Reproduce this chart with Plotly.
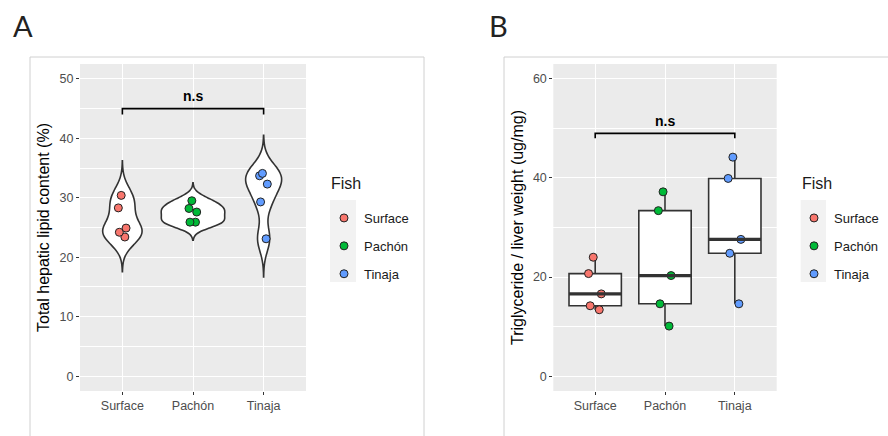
import numpy as np
import plotly.graph_objects as go

# ---------------- data ----------------
categories = ["Surface", "Pachón", "Tinaja"]
colors = ["#F8766D", "#00BA38", "#619CFF"]

lipid_surface = [30.4, 28.3, 24.9, 24.2, 23.4]
lipid_pachon = [29.5, 28.2, 27.6, 25.9, 25.9]
lipid_tinaja = [34.1, 33.7, 32.3, 29.3, 23.1]

tg_surface = [24.0, 20.7, 16.6, 14.2, 13.4]
tg_pachon = [37.2, 33.4, 20.3, 14.6, 10.1]
tg_tinaja = [44.2, 39.9, 27.6, 24.8, 14.6]

lipid_ticks = [0, 10, 20, 30, 40, 50]
tg_ticks = [0, 20, 40, 60]

lipid_sets = [lipid_surface, lipid_pachon, lipid_tinaja]
tg_sets = [tg_surface, tg_pachon, tg_tinaja]

W, H = 888, 436
FONT = "Liberation Sans, Arial, sans-serif"
TICKC = "#4D4D4D"
LINEC = "#333333"


def bw_nrd0(v):
    v = np.asarray(v, float)
    sd = v.std(ddof=1)
    q1, q3 = np.percentile(v, [25, 75])
    lo = min(sd, (q3 - q1) / 1.34)
    return 0.9 * lo * len(v) ** -0.2


fig = go.Figure()

# ---------------- panel A: violins ----------------
for i, (cat, vals, col) in enumerate(zip(categories, lipid_sets, colors)):
    bw = bw_nrd0(vals)
    fig.add_trace(go.Violin(
        x=[i] * len(vals), y=vals, name=cat,
        xaxis="x", yaxis="y",
        scalegroup="lipid", scalemode="width",
        bandwidth=bw, spanmode="manual",
        span=[min(vals) - 3 * bw, max(vals) + 3 * bw],
        fillcolor="white", line=dict(color=LINEC, width=1.6),
        points="all", pointpos=0, jitter=0.15,
        marker=dict(color=col, size=8, line=dict(color="#222222", width=1)),
        showlegend=False, hoverinfo="y",
    ))

# ---------------- panel B: boxes ----------------
for i, (cat, vals, col) in enumerate(zip(categories, tg_sets, colors)):
    fig.add_trace(go.Box(
        x=[i] * len(vals), y=vals, name=cat,
        xaxis="x2", yaxis="y2", width=0.75, whiskerwidth=0,
        quartilemethod="inclusive",
        fillcolor="white", line=dict(color=LINEC, width=1.6),
        boxpoints=False, showlegend=False, hoverinfo="y",
    ))
    med = float(np.median(vals))
    fig.add_trace(go.Scatter(
        x=[i - 0.375, i + 0.375], y=[med, med], mode="lines",
        xaxis="x2", yaxis="y2",
        line=dict(color=LINEC, width=3.2), showlegend=False, hoverinfo="skip",
    ))
    fig.add_trace(go.Box(
        x=[i] * len(vals), y=vals, name=cat,
        xaxis="x2", yaxis="y2", width=0.75, whiskerwidth=0,
        fillcolor="rgba(0,0,0,0)", line=dict(color="rgba(0,0,0,0)", width=0),
        boxpoints="all", pointpos=0, jitter=0.3,
        marker=dict(color=col, size=8, line=dict(color="#222222", width=1)),
        showlegend=False, hoverinfo="y",
    ))

# ---------------- legends ----------------
for lg in ["legend", "legend2"]:
    for cat, col in zip(categories, colors):
        fig.add_trace(go.Scatter(
            x=[None], y=[None], mode="markers", name=cat,
            marker=dict(color=col, size=8, line=dict(color="#222222", width=1)),
            legend=lg, legendgroup=lg + cat, showlegend=True,
            xaxis="x" if lg == "legend" else "x2",
            yaxis="y" if lg == "legend" else "y2",
        ))

xdomA = [80 / W, 306 / W]
xdomB = [553.3 / W, 776.7 / W]
ydom = [(H - 391) / H, (H - 64) / H]

axis_common = dict(
    showline=False, zeroline=False, ticks="outside", ticklen=3,
    tickcolor=LINEC, tickwidth=1.1,
    tickfont=dict(family=FONT, size=12.5, color=TICKC),
    showgrid=True, gridcolor="white", gridwidth=1.2,
)

legend_common = dict(
    bgcolor="rgba(0,0,0,0)", font=dict(family=FONT, size=13, color="#1a1a1a"),
    tracegroupgap=8, itemwidth=30, yanchor="top", xanchor="left",
)


def px_x(p):
    return p / W


def px_y(p):
    return (H - p) / H


shapes = [
    # panel borders
    dict(type="rect", xref="paper", yref="paper", x0=px_x(30), x1=px_x(424),
         y0=-0.05, y1=px_y(57), line=dict(color="#D0D0D0", width=1), layer="below"),
    dict(type="rect", xref="paper", yref="paper", x0=px_x(504), x1=1.05,
         y0=-0.05, y1=px_y(57), line=dict(color="#D0D0D0", width=1), layer="below"),
    # legend key backgrounds
    dict(type="rect", xref="paper", yref="paper", x0=px_x(330), x1=px_x(356),
         y0=px_y(282), y1=px_y(200), fillcolor="#F2F2F2", line=dict(width=0), layer="below"),
    dict(type="rect", xref="paper", yref="paper", x0=px_x(800.7), x1=px_x(826),
         y0=px_y(282), y1=px_y(200), fillcolor="#F2F2F2", line=dict(width=0), layer="below"),
    # significance brackets
    dict(type="path", xref="x", yref="y", path="M 0,44 L 0,45 L 2,45 L 2,44",
         line=dict(color="black", width=1.6)),
    dict(type="path", xref="x2", yref="y2", path="M 0,48 L 0,49 L 2,49 L 2,48",
         line=dict(color="black", width=1.6)),
]

annotations = [
    dict(text="A", xref="paper", yref="paper", x=px_x(11), y=px_y(26),
         xanchor="left", yanchor="middle", showarrow=False,
         font=dict(family="Lato, Open Sans, sans-serif", size=29, color="#222222")),
    dict(text="B", xref="paper", yref="paper", x=px_x(487), y=px_y(26),
         xanchor="left", yanchor="middle", showarrow=False,
         font=dict(family="Lato, Open Sans, sans-serif", size=29, color="#222222")),
    dict(text="<b>n.s</b>", xref="x", yref="y", x=1, y=45.4, yanchor="bottom",
         showarrow=False, font=dict(family=FONT, size=14, color="black")),
    dict(text="<b>n.s</b>", xref="x2", yref="y2", x=1, y=49.5, yanchor="bottom",
         showarrow=False, font=dict(family=FONT, size=14, color="black")),
    dict(text="Fish", xref="paper", yref="paper", x=px_x(329), y=px_y(183),
         xanchor="left", yanchor="middle", showarrow=False,
         font=dict(family=FONT, size=16, color="#1a1a1a")),
    dict(text="Fish", xref="paper", yref="paper", x=px_x(800), y=px_y(183),
         xanchor="left", yanchor="middle", showarrow=False,
         font=dict(family=FONT, size=16, color="#1a1a1a")),
]

fig.update_layout(
    width=W, height=H, margin=dict(l=0, r=0, t=0, b=0),
    paper_bgcolor="white", plot_bgcolor="#EBEBEB",
    showlegend=True, violinmode="overlay", boxmode="overlay",
    violingap=0.1, violingroupgap=0,
    xaxis=dict(domain=xdomA, range=[-0.6, 2.6], tickvals=[0, 1, 2],
               ticktext=categories, anchor="y", **axis_common),
    yaxis=dict(domain=ydom, range=[-2.5, 52.5], tickvals=lipid_ticks, anchor="x",
               minor=dict(dtick=5, tick0=0, showgrid=True, gridcolor="white",
                          gridwidth=0.5, ticks=""),
               title=dict(text="Total hepatic lipid content (%)", standoff=5,
                          font=dict(family=FONT, size=16, color="black")),
               **axis_common),
    xaxis2=dict(domain=xdomB, range=[-0.6, 2.6], tickvals=[0, 1, 2],
                ticktext=categories, anchor="y2", **axis_common),
    yaxis2=dict(domain=ydom, range=[-3, 63], tickvals=tg_ticks, anchor="x2",
                minor=dict(dtick=10, tick0=0, showgrid=True, gridcolor="white",
                           gridwidth=0.5, ticks=""),
                title=dict(text="Triglyceride / liver weight (ug/mg)", standoff=5,
                           font=dict(family=FONT, size=16, color="black")),
                **axis_common),
    legend=dict(x=px_x(324), y=px_y(203), **legend_common),
    legend2=dict(x=px_x(794), y=px_y(203), **legend_common),
    shapes=shapes, annotations=annotations,
)

fig.write_html("out.html")
